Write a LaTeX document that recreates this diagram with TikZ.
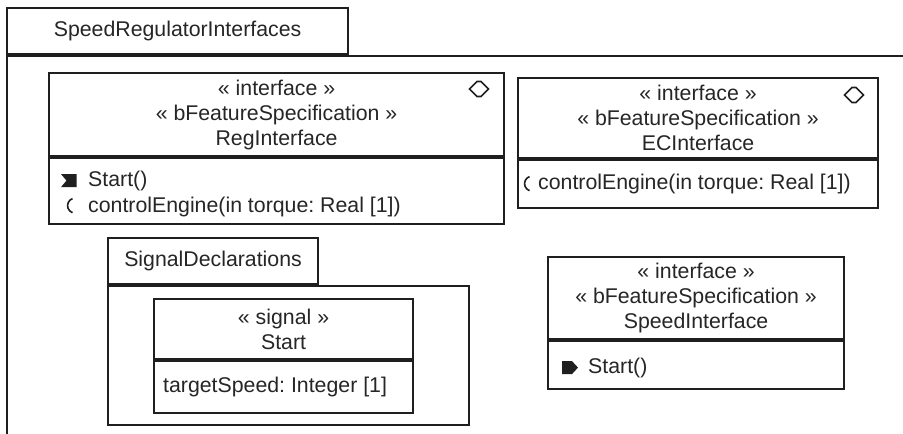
\documentclass[tikz,border=0pt]{standalone}
\usepackage{fontspec}
\setmainfont{Liberation Sans}
\usetikzlibrary{positioning,calc}
\definecolor{umlline}{rgb}{0.12,0.12,0.12}
\definecolor{umltext}{rgb}{0.15,0.15,0.15}
\frenchspacing

\begin{document}
\begin{tikzpicture}[
  x=1pt, y=1pt,
  font=\fontsize{21.3}{25}\selectfont, text=umltext,
  tab/.style={draw=umlline, line width=2.1pt, anchor=north west, inner sep=0pt},
  pkg/.style={draw=umlline, line width=2.1pt, anchor=north west, inner sep=0pt},
  head/.style={draw=umlline, line width=2.1pt, anchor=north west, inner sep=0pt,
               align=center},
  comp/.style={draw=umlline, line width=2.1pt, anchor=north west, inner sep=0pt},
  optxt/.style={anchor=base west, inner sep=0pt},
  recvsig/.pic={\fill[umlline] (-8,6.5) -- (7.5,6.5) -- (7.5,-6.5) -- (-8,-6.5)
                -- (-2.5,0) -- cycle;},
  sendsig/.pic={\fill[umlline] (-8,6.5) -- (2,6.5) -- (8,0) -- (2,-6.5) -- (-8,-6.5)
                -- cycle;},
  reqop/.pic={\draw[umlline, line width=1.6pt]
                (2.5,7) arc[start angle=110, end angle=250, radius=7.5];},
  absmark/.pic={\draw[umlline, line width=1.6pt]
                (-9.5,0) -- (-2,7.5) -- (2,7.5) -- (9.5,0) -- (2,-7.5) -- (-2,-7.5) -- cycle;}
]
  \clip (0,0) rectangle (903,-434);
  \fill[white] (0,0) rectangle (903,-434);

  % Paquete exterior
  \node[tab, minimum width=341, minimum height=46] (outertab) at (6,-7)
        {SpeedRegulatorInterfaces};
  \node[pkg, minimum width=920, minimum height=400] (outerbody)
        at (outertab.south west) {};

  % RegInterface
  \node[head, minimum width=455, minimum height=83] (reghead) at (48,-72)
        {« interface »\\« bFeatureSpecification »\\RegInterface};
  \node[comp, minimum width=455, minimum height=66] (regops) at (reghead.south west) {};
  \node[optxt] (regstart) at ($(regops.north west)+(40,-29)$) {Start()};
  \node[optxt] (regctrl) at ($(regops.north west)+(40,-55)$)
        {controlEngine(in torque: Real [1])};
  \pic at ($(regstart.west)+(-19,0)$) {recvsig};
  \pic at ($(regctrl.west)+(-18,1)$) {reqop};
  \pic at (479,-89) {absmark};

  % ECInterface
  \node[head, minimum width=360, minimum height=80] (echead) at (517,-77)
        {« interface »\\« bFeatureSpecification »\\ECInterface};
  \node[comp, minimum width=360, minimum height=48] (ecops) at (echead.south west) {};
  \node[optxt] (ecctrl) at ($(ecops.north west)+(21,-30)$)
        {controlEngine(in torque: Real [1])};
  \pic at ($(ecctrl.west)+(-11,0)$) {reqop};
  \pic at (854,-95) {absmark};

  % SignalDeclarations
  \node[tab, minimum width=210, minimum height=46] (sigtab) at (107,-237)
        {SignalDeclarations};
  \node[pkg, minimum width=361, minimum height=139] (sigbody) at (sigtab.south west) {};
  \node[head, minimum width=259, minimum height=60] (starthead) at (153,-298)
        {« signal »\\Start};
  \node[comp, minimum width=259, minimum height=52] (startattr)
        at (starthead.south west) {};
  \node[optxt] (starttgt) at ($(startattr.north west)+(10,-32)$)
        {targetSpeed: Integer [1]};

  % SpeedInterface
  \node[head, minimum width=296, minimum height=82] (spdhead) at (547,-256)
        {« interface »\\« bFeatureSpecification »\\SpeedInterface};
  \node[comp, minimum width=296, minimum height=48] (spdops) at (spdhead.south west) {};
  \node[optxt] (spdstart) at ($(spdops.north west)+(41,-33)$) {Start()};
  \pic at ($(spdstart.west)+(-18,0)$) {sendsig};
\end{tikzpicture}
\end{document}
